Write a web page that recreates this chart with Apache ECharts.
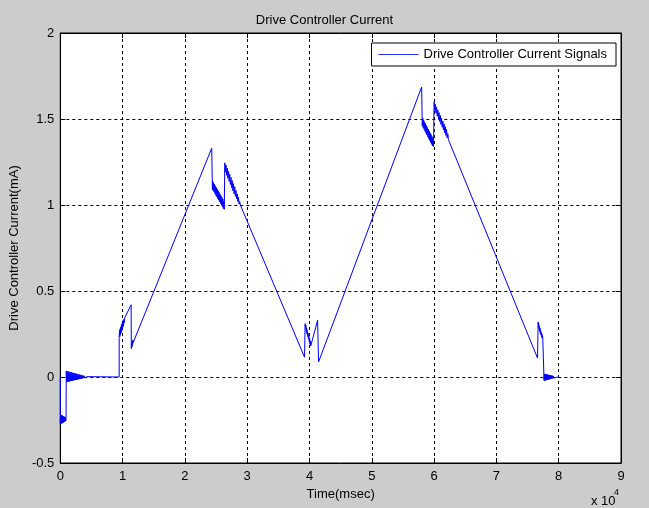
<!DOCTYPE html>
<html>
<head>
<meta charset="utf-8">
<script src="https://cdn.jsdelivr.net/npm/echarts@6/dist/echarts.min.js"></script>
<style>
html,body{margin:0;padding:0;background:#cccccc;}
#chart{width:649px;height:508px;}
</style>
</head>
<body>
<div id="chart"></div>
<script>
// ---- data (time in msec, current in mA) ----
const xTickLabels = ['0','1','2','3','4','5','6','7','8','9'];
const yTickValues = [-0.5, 0, 0.5, 1, 1.5, 2];

const segStart = [[0,0],[0,-0.27],[40,-0.22],[80,-0.27],[120,-0.22],[160,-0.27],[200,-0.225],[240,-0.27],[280,-0.225],[320,-0.265],[360,-0.225],[400,-0.265],[440,-0.23],[480,-0.265],[520,-0.23],[560,-0.26],[600,-0.23],[640,-0.26],[680,-0.235],[720,-0.26],[760,-0.235],[800,-0.255],[840,-0.24],[880,-0.255],[920,-0.24],[960,-0.25]];
const segSettle = [[960,0.035],[1000,-0.029],[1080,0.034],[1160,-0.028],[1240,0.032],[1320,-0.027],[1400,0.031],[1480,-0.025],[1560,0.029],[1640,-0.024],[1720,0.027],[1800,-0.023],[1880,0.026],[1960,-0.021],[2040,0.024],[2120,-0.02],[2200,0.023],[2280,-0.019],[2360,0.021],[2440,-0.017],[2520,0.02],[2600,-0.016],[2680,0.018],[2760,-0.015],[2840,0.016],[2920,-0.013],[3000,0.015],[3080,-0.012],[3160,0.013],[3240,-0.011],[3320,0.012],[3400,-0.009],[3480,0.01],[3560,-0.008],[3640,0.0085],[3720,-0.0065],[3800,0.007],[3880,-0.005],[3960,0.005],[4040,-0.004],[4120,0.004],[4200,-0.0025],[4300,0.002],[4400,-0.001],[4500,0],[9450,0]];
const segRise1 = [[9450,0.23],[9500,0.27],[9550,0.235],[9600,0.28],[9650,0.245],[9700,0.29],[9750,0.255],[9800,0.3],[9850,0.265],[9900,0.31],[9950,0.275],[10000,0.32],[10050,0.29],[10100,0.33],[10150,0.3],[10200,0.335],[10250,0.315],[10350,0.345],[11370,0.42],[11400,0.165],[11450,0.2],[11500,0.175],[11550,0.21],[11600,0.185],[11650,0.215],[11700,0.2],[11800,0.21],[24300,1.33]];
const segPeak1 = [[24420,1.09],[24450,1.14],[24525,1.085],[24600,1.13],[24675,1.076],[24750,1.121],[24825,1.066],[24900,1.111],[24975,1.056],[25050,1.102],[25125,1.047],[25200,1.092],[25275,1.037],[25350,1.082],[25425,1.028],[25500,1.073],[25575,1.018],[25650,1.063],[25725,1.008],[25800,1.053],[25875,0.999],[25950,1.044],[26025,0.989],[26100,1.034],[26175,0.979],[26250,1.02],[26325,0.975],[26400,0.98],
  [26400,1.245],[26500,1.191],[26600,1.232],[26700,1.173],[26800,1.214],[26900,1.155],[27000,1.196],[27100,1.137],[27200,1.178],[27300,1.119],[27400,1.16],[27500,1.101],[27600,1.142],[27700,1.083],[27800,1.124],[27900,1.065],[28000,1.106],[28100,1.05],[28200,1.085],[28300,1.035],[28400,1.065],[28500,1.02],[28600,1.045],[28700,1.005],[28800,1.02],[28900,1.0]];
const segValley = [[39200,0.115],[39300,0.31],[39360,0.28],[39420,0.3],[39480,0.265],[39540,0.285],[39600,0.25],[39660,0.27],[39720,0.235],[39780,0.255],[39840,0.22],[39900,0.24],[39960,0.205],[40020,0.225],[40080,0.19],[40140,0.21],[40200,0.18],[40300,0.19],[40400,0.175],[41300,0.33],[41450,0.087]];
const segPeak2 = [[58000,1.686],[58100,1.46],[58175,1.505],[58250,1.449],[58325,1.494],[58400,1.439],[58475,1.483],[58550,1.428],[58625,1.473],[58700,1.417],[58775,1.462],[58850,1.407],[58925,1.451],[59000,1.396],[59075,1.441],[59150,1.385],[59225,1.43],[59300,1.375],[59375,1.419],[59450,1.364],[59525,1.409],[59600,1.353],[59675,1.398],[59750,1.343],[59825,1.387],[59900,1.34],[60000,1.34],
  [60000,1.6],[60100,1.55],[60200,1.586],[60300,1.534],[60400,1.57],[60500,1.517],[60600,1.553],[60700,1.501],[60800,1.537],[60900,1.485],[61000,1.521],[61100,1.469],[61200,1.505],[61300,1.452],[61400,1.488],[61500,1.436],[61600,1.472],[61700,1.42],[61800,1.456],[61900,1.404],[62000,1.44],[62100,1.39],[62200,1.415],[62300,1.38],[62400,1.385]];
const segEnd = [[76600,0.11],[76700,0.32],[76750,0.29],[76800,0.31],[76850,0.28],[76900,0.295],[76950,0.265],[77000,0.285],[77050,0.255],[77100,0.27],[77150,0.245],[77200,0.26],[77250,0.235],[77300,0.25],[77350,0.225],[77400,0.24],[77450,0.22],[77500,0.23],[77600,0.21],[77650,-0.02],
  [77700,0.018],[77760,-0.021],[77820,0.017],[77880,-0.02],[77940,0.016],[78000,-0.018],[78060,0.015],[78120,-0.017],[78180,0.014],[78240,-0.016],[78300,0.013],[78360,-0.015],[78420,0.012],[78480,-0.0135],[78540,0.011],[78600,-0.012],[78660,0.01],[78720,-0.011],[78780,0.009],[78840,-0.0098],[78900,0.008],[78960,-0.0086],[79020,0.007],[79080,-0.0074],[79140,0.006],[79200,-0.006],[79300,0.004],[79400,-0.004],[79500,0.003],[79600,-0.002],[79700,0.001],[79800,0],[80000,0]];

const signal = [].concat(segStart, segSettle, segRise1, segPeak1, segValley, segPeak2, segEnd);

const FONT = 'Liberation Sans, Arial, sans-serif';
const chart = echarts.init(document.getElementById('chart'), null, {renderer:'canvas'});
const axisCommonX = {
  type:'value', min:0, max:90000, interval:10000,
  axisLine:{show:true, onZero:false, lineStyle:{color:'#000', width:1}},
  axisTick:{show:true, inside:true, length:5, lineStyle:{color:'#000'}}
};
const axisCommonY = {
  type:'value', min:-0.5, max:2, interval:0.5,
  axisLine:{show:true, onZero:false, lineStyle:{color:'#000', width:1}},
  axisTick:{show:true, inside:true, length:5, lineStyle:{color:'#000'}}
};
chart.setOption({
  animation:false,
  backgroundColor:'#cccccc',
  textStyle:{fontFamily:FONT},
  title:{text:'Drive Controller Current', left:'center', top:9,
    textStyle:{fontFamily:FONT, fontSize:13, fontWeight:'normal', color:'#000'}},
  legend:{
    right:33, top:43, orient:'horizontal',
    backgroundColor:'#fff', borderColor:'#000', borderWidth:1, borderRadius:0,
    padding:[5,9,5,7], itemWidth:40, itemHeight:1, itemGap:5,
    textStyle:{fontFamily:FONT, fontSize:13, color:'#000', lineHeight:13},
    data:[{name:'Drive Controller Current Signals', icon:'rect', itemStyle:{color:'#3333ee', borderWidth:0}}]
  },
  grid:{left:57, right:28, top:33, bottom:45, show:true, backgroundColor:'#fff', borderColor:'#000', borderWidth:1, containLabel:false},
  xAxis:[
    Object.assign({}, axisCommonX, {
      position:'bottom',
      name:'Time(msec)', nameLocation:'middle', nameGap:23,
      nameTextStyle:{fontFamily:FONT, fontSize:13, color:'#000'},
      axisLabel:{fontFamily:FONT, fontSize:13, color:'#000', margin:7,
        formatter:function(v){ return xTickLabels[Math.round(v/10000)]; }},
      splitLine:{show:true, lineStyle:{color:'#000', type:[3,3], width:1}}
    }),
    Object.assign({}, axisCommonX, {position:'top', axisLabel:{show:false}, splitLine:{show:false}})
  ],
  yAxis:[
    Object.assign({}, axisCommonY, {
      position:'left',
      name:'Drive Controller Current(mA)', nameLocation:'middle', nameGap:38, nameRotate:90,
      nameTextStyle:{fontFamily:FONT, fontSize:13, color:'#000'},
      axisLabel:{fontFamily:FONT, fontSize:13, color:'#000', margin:6,
        formatter:function(v){ const t = yTickValues.find(function(a){return Math.abs(a-v)<1e-9;}); return String(t); }},
      splitLine:{show:true, lineStyle:{color:'#000', type:[3,3], width:1}}
    }),
    Object.assign({}, axisCommonY, {position:'right', axisLabel:{show:false}, splitLine:{show:false}})
  ],
  graphic:[
    {type:'text', left:591, top:495, style:{text:'x 10', fontFamily:FONT, fontSize:13, fill:'#000'}},
    {type:'text', left:614, top:488, style:{text:'4', fontFamily:FONT, fontSize:9, fill:'#000'}}
  ],
  series:[{
    name:'Drive Controller Current Signals',
    type:'line', xAxisIndex:0, yAxisIndex:0,
    data:signal, symbol:'none', showSymbol:false,
    lineStyle:{color:'#0000ff', width:1},
    itemStyle:{color:'#0000ff'},
    z:3
  }]
});
</script>
</body>
</html>
